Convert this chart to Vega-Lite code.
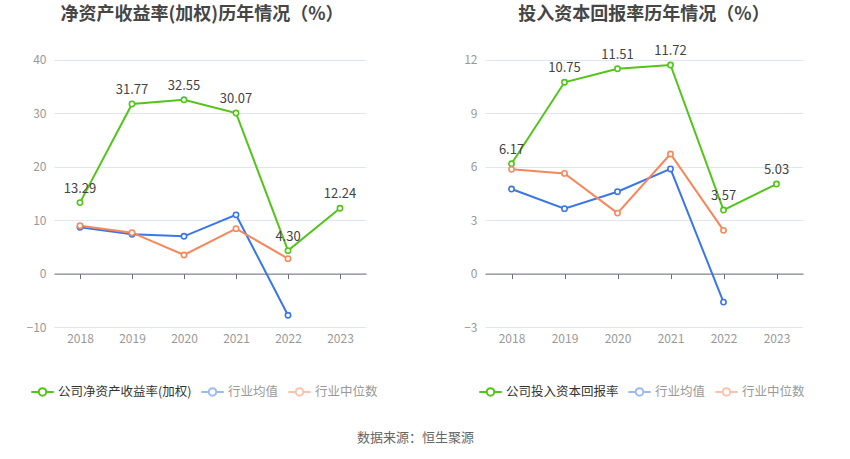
{
  "$schema": "https://vega.github.io/schema/vega-lite/v6.json",
  "background": "white",
  "padding": {"left": 26, "top": 6, "right": 10, "bottom": 10},
  "bounds": "flush",
  "spacing": 119,
  "title": {
    "text": "数据来源：恒生聚源",
    "orient": "bottom",
    "anchor": "middle",
    "fontSize": 13,
    "fontWeight": "normal",
    "color": "#666666",
    "font": "Noto Sans CJK SC",
    "offset": 32
  },
  "datasets": {
    "roe": [
      {"year": "2018", "series": "公司净资产收益率(加权)", "value": 13.29},
      {"year": "2019", "series": "公司净资产收益率(加权)", "value": 31.77},
      {"year": "2020", "series": "公司净资产收益率(加权)", "value": 32.55},
      {"year": "2021", "series": "公司净资产收益率(加权)", "value": 30.07},
      {"year": "2022", "series": "公司净资产收益率(加权)", "value": 4.30},
      {"year": "2023", "series": "公司净资产收益率(加权)", "value": 12.24},
      {"year": "2018", "series": "行业均值", "value": 8.67},
      {"year": "2019", "series": "行业均值", "value": 7.36},
      {"year": "2020", "series": "行业均值", "value": 6.98},
      {"year": "2021", "series": "行业均值", "value": 11.0},
      {"year": "2022", "series": "行业均值", "value": -7.8},
      {"year": "2018", "series": "行业中位数", "value": 8.97},
      {"year": "2019", "series": "行业中位数", "value": 7.66},
      {"year": "2020", "series": "行业中位数", "value": 3.48},
      {"year": "2021", "series": "行业中位数", "value": 8.42},
      {"year": "2022", "series": "行业中位数", "value": 2.8}
    ],
    "roic": [
      {"year": "2018", "series": "公司投入资本回报率", "value": 6.17},
      {"year": "2019", "series": "公司投入资本回报率", "value": 10.75},
      {"year": "2020", "series": "公司投入资本回报率", "value": 11.51},
      {"year": "2021", "series": "公司投入资本回报率", "value": 11.72},
      {"year": "2022", "series": "公司投入资本回报率", "value": 3.57},
      {"year": "2023", "series": "公司投入资本回报率", "value": 5.03},
      {"year": "2018", "series": "行业均值", "value": 4.75},
      {"year": "2019", "series": "行业均值", "value": 3.65},
      {"year": "2020", "series": "行业均值", "value": 4.6},
      {"year": "2021", "series": "行业均值", "value": 5.88},
      {"year": "2022", "series": "行业均值", "value": -1.6},
      {"year": "2018", "series": "行业中位数", "value": 5.86},
      {"year": "2019", "series": "行业中位数", "value": 5.63},
      {"year": "2020", "series": "行业中位数", "value": 3.4},
      {"year": "2021", "series": "行业中位数", "value": 6.72},
      {"year": "2022", "series": "行业中位数", "value": 2.43}
    ]
  },
  "hconcat": [
    {
      "title": {"text": "净资产收益率(加权)历年情况（%）", "dx": -8},
      "width": 312,
      "height": 284,
      "data": {"name": "roe"},
      "encoding": {
        "x": {
          "field": "year",
          "type": "ordinal",
          "scale": {"type": "point", "padding": 0.5},
          "axis": {"offset": -53.4, "labelPadding": 55}
        },
        "y": {
          "field": "value",
          "type": "quantitative",
          "scale": {"domain": [-10, 43.18], "nice": false},
          "axis": {"values": [-10, 0, 10, 20, 30, 40]}
        },
        "color": {
          "field": "series",
          "type": "nominal",
          "scale": {
            "domain": ["公司净资产收益率(加权)", "行业均值", "行业中位数"],
            "range": ["#52c41a", "#3b76e5", "#f7875a"]
          },
          "legend": {
            "legendX": -20,
            "legendY": 340,
            "encode": {
              "symbols": {
                "update": {
                  "strokeOpacity": {"signal": "datum.value == '行业均值' || datum.value == '行业中位数' ? 0.5 : 1"}
                }
              },
              "labels": {
                "update": {
                  "fill": {"signal": "datum.value == '行业均值' || datum.value == '行业中位数' ? '#999999' : '#333333'"}
                }
              }
            }
          }
        }
      },
      "layer": [
        {"mark": {"type": "line", "strokeWidth": 2}},
        {"mark": {"type": "point", "filled": false, "fill": "white", "opacity": 1, "size": 28, "strokeWidth": 1.6}},
        {
          "transform": [{"filter": "datum.series == '公司净资产收益率(加权)'"}],
          "mark": {"type": "text", "dy": -14, "fontSize": 13, "font": "Noto Sans CJK SC"},
          "encoding": {
            "text": {"field": "value", "type": "quantitative", "format": ".2f"},
            "color": {"value": "#444444"}
          }
        }
      ]
    },
    {
      "title": {"text": "投入资本回报率历年情况（%）"},
      "width": 318,
      "height": 284,
      "data": {"name": "roic"},
      "encoding": {
        "x": {
          "field": "year",
          "type": "ordinal",
          "scale": {"type": "point", "padding": 0.5},
          "axis": {"offset": -53.4, "labelPadding": 55}
        },
        "y": {
          "field": "value",
          "type": "quantitative",
          "scale": {"domain": [-3, 12.955], "nice": false},
          "axis": {"values": [-3, 0, 3, 6, 9, 12]}
        },
        "color": {
          "field": "series",
          "type": "nominal",
          "scale": {
            "domain": ["公司投入资本回报率", "行业均值", "行业中位数"],
            "range": ["#52c41a", "#3b76e5", "#f7875a"]
          },
          "legend": {
            "legendX": -3,
            "legendY": 340,
            "encode": {
              "symbols": {
                "update": {
                  "strokeOpacity": {"signal": "datum.value == '行业均值' || datum.value == '行业中位数' ? 0.5 : 1"}
                }
              },
              "labels": {
                "update": {
                  "fill": {"signal": "datum.value == '行业均值' || datum.value == '行业中位数' ? '#999999' : '#333333'"}
                }
              }
            }
          }
        }
      },
      "layer": [
        {"mark": {"type": "line", "strokeWidth": 2}},
        {"mark": {"type": "point", "filled": false, "fill": "white", "opacity": 1, "size": 28, "strokeWidth": 1.6}},
        {
          "transform": [{"filter": "datum.series == '公司投入资本回报率'"}],
          "mark": {"type": "text", "dy": -14, "fontSize": 13, "font": "Noto Sans CJK SC"},
          "encoding": {
            "text": {"field": "value", "type": "quantitative", "format": ".2f"},
            "color": {"value": "#444444"}
          }
        }
      ]
    }
  ],
  "resolve": {"scale": {"color": "independent", "y": "independent"}},
  "config": {
    "font": "Noto Sans CJK SC",
    "view": {"stroke": null},
    "title": {
      "fontSize": 18,
      "fontWeight": "bold",
      "color": "#464646",
      "anchor": "middle",
      "offset": 19,
      "font": "Noto Sans CJK SC"
    },
    "axisX": {
      "title": null,
      "domainColor": "#6e7079",
      "domainWidth": 1,
      "tickColor": "#6e7079",
      "tickSize": 5,
      "labelColor": "#999999",
      "labelFontSize": 12,
      "labelAngle": 0,
      "grid": false
    },
    "axisY": {
      "title": null,
      "domain": false,
      "ticks": false,
      "labelColor": "#999999",
      "labelFontSize": 12,
      "labelPadding": 8,
      "gridColor": "#e0e6f1",
      "gridWidth": 1
    },
    "legend": {
      "orient": "none",
      "direction": "horizontal",
      "title": null,
      "symbolType": "M-1.5,0L-0.5,0M0.5,0L1.5,0M-0.5,0A0.5,0.5 0 1,0 0.5,0A0.5,0.5 0 1,0 -0.5,0Z",
      "symbolSize": 225,
      "symbolStrokeWidth": 2,
      "symbolFillColor": "white",
      "labelFontSize": 12.5,
      "labelColor": "#999999",
      "labelOffset": 7,
      "columnPadding": 5,
      "labelLimit": 300,
      "symbolOffset": 0
    }
  }
}
